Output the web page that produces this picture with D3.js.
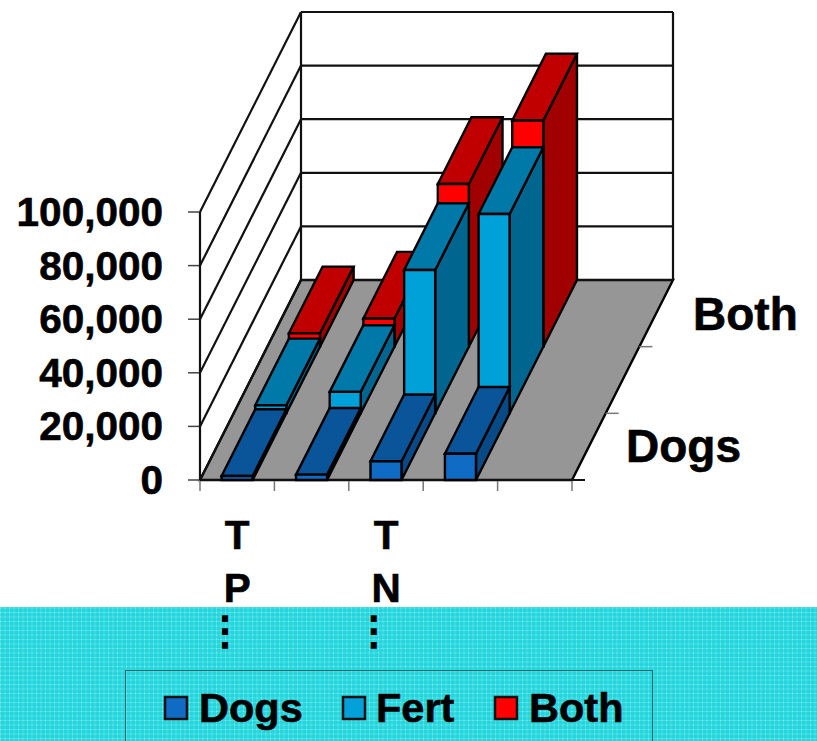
<!DOCTYPE html>
<html>
<head>
<meta charset="utf-8">
<script src="https://cdn.jsdelivr.net/npm/d3@7"></script>
<style>
    html, body { margin: 0; padding: 0; background: #fff; }
    svg { display: block; }
    text { font-family: "Liberation Sans", Arial, sans-serif; font-weight: bold; fill: #000; stroke: #000; stroke-width: 0.6px; }
    text.dots { font-family: "DejaVu Sans", sans-serif; font-weight: normal; stroke-width: 2px; }
</style>
</head>
<body>
<div class="container"></div>
<script>
var width = 817;
var height = 741;

// four filled groups, the fifth slot on the axis stays empty
var categories = ["T P", "", "T N", "", ""];
var dogs = [1500, 2000, 7000, 9800, null];
var fert = [3000, 8000, 53500, 74400, null];
var both = [5000, 10500, 60700, 84400, null];
var series_names = ["Dogs", "Fert", "Both"];
var depth_labels = ["Dogs", "Both"];
var y_ticks = [0, 20000, 40000, 60000, 80000, 100000];

var colors = {
    Dogs: { front: "#0f6bc4", top: "#0a5499", side: "#084a86" },
    Fert: { front: "#00a0d8", top: "#0079a8", side: "#006690" },
    Both: { front: "#ff0000", top: "#c00000", side: "#a00000" }
};

var floor_left = 200, floor_right = 572, floor_y = 480;
var depth_dx = 101, depth_dy = -200;

var x = d3.scaleLinear().domain([0, 5]).range([floor_left, floor_right]);
var band = d3.scaleBand().domain(d3.range(5)).range([floor_left, floor_right])
    .paddingInner(0.583).paddingOuter(0.29);
var y = d3.scaleLinear().domain([0, 100000]).range([0, -268]);
var z = d3.scaleLinear().domain([0, 3]).range([0, 1]);

// px is the screen x on the front edge, v the value, d the depth row
function project(px, v, d) {
    return [px + z(d) * depth_dx, floor_y + y(v) + z(d) * depth_dy];
}

function poly(g, pts, fill) {
    g.append("polygon")
        .attr("points", pts.map(function(p) { return p.join(","); }).join(" "))
        .attr("fill", fill)
        .attr("stroke", "#000")
        .attr("stroke-width", 2.4)
        .attr("stroke-linejoin", "miter");
}

function line(g, a, b, w, col) {
    g.append("line")
        .attr("x1", a[0]).attr("y1", a[1])
        .attr("x2", b[0]).attr("y2", b[1])
        .attr("stroke", col || "#111")
        .attr("stroke-width", w || 2.2);
}

function init() {
    var svg = d3.select(".container").append("svg")
        .attr("width", width)
        .attr("height", height);

    // cyan band at the bottom of the slide
    var pattern = svg.append("defs").append("pattern")
        .attr("id", "dots")
        .attr("patternUnits", "userSpaceOnUse")
        .attr("width", 4.5).attr("height", 4.5);
    pattern.append("rect").attr("width", 4.5).attr("height", 4.5).attr("fill", "#22d6de");
    pattern.append("rect").attr("width", 4.5).attr("height", 1).attr("fill", "#48dde3");
    pattern.append("rect").attr("width", 1).attr("height", 4.5).attr("fill", "#48dde3");
    pattern.append("rect").attr("width", 1).attr("height", 1).attr("fill", "#96ecef");

    svg.append("rect")
        .attr("x", 0).attr("y", 607)
        .attr("width", width).attr("height", height - 607)
        .attr("fill", "url(#dots)");

    var chart = svg.append("g").classed("chart", true);

    // floor
    poly(chart, [project(floor_left, 0, 0), project(floor_right, 0, 0),
        project(floor_right, 0, 3), project(floor_left, 0, 3)], "#969696");

    // wall lines
    y_ticks.forEach(function(t) {
        line(chart, project(floor_left, t, 0), project(floor_left, t, 3));
        line(chart, project(floor_left, t, 3), project(floor_right, t, 3));
        line(chart, [floor_left - 12, floor_y + y(t)], [floor_left, floor_y + y(t)], 1.5, "#444");
    });
    line(chart, project(floor_left, 0, 0), project(floor_left, 100000, 0));
    line(chart, project(floor_left, 0, 3), project(floor_left, 100000, 3));
    line(chart, project(floor_right, 0, 3), project(floor_right, 100000, 3));

    // category ticks
    d3.range(6).forEach(function(i) {
        line(chart, [x(i), floor_y], [x(i), floor_y + 11], 1.5, "#777");
    });
    line(chart, [floor_left, floor_y], [floor_right + 13, floor_y], 2);

    // depth ticks
    d3.range(1, 3).forEach(function(d) {
        var p = project(floor_right, 0, d);
        line(chart, p, [p[0] + 13, p[1]], 1.5, "#777");
    });

    // bars, back row first
    var rows = [both, fert, dogs];
    rows.forEach(function(values, r) {
        var d = 2 - r;
        var c = colors[series_names[d]];
        values.forEach(function(v, i) {
            if (v === null) return;
            var x0 = band(i), x1 = band(i) + band.bandwidth();
            poly(chart, [project(x1, 0, d), project(x1, 0, d + 1), project(x1, v, d + 1), project(x1, v, d)], c.side);
            poly(chart, [project(x0, v, d), project(x1, v, d), project(x1, v, d + 1), project(x0, v, d + 1)], c.top);
            poly(chart, [project(x0, 0, d), project(x1, 0, d), project(x1, v, d), project(x0, v, d)], c.front);
        });
    });

    // value axis labels
    chart.selectAll("text.ytick")
        .data(y_ticks)
        .enter()
        .append("text")
        .classed("ytick", true)
        .attr("x", 163)
        .attr("y", function(d) { return floor_y + y(d) + 14; })
        .attr("text-anchor", "end")
        .attr("font-size", 40.5)
        .text(d3.format(","));

    // category labels are wrapped one letter per line, then the dots
    categories.forEach(function(label, i) {
        if (!label) return;
        var cx = (x(i) + x(i + 1)) / 2;
        label.split(" ").forEach(function(ch, k) {
            chart.append("text")
                .attr("x", cx)
                .attr("y", 549 + k * 53)
                .attr("text-anchor", "middle")
                .attr("font-size", 40.5)
                .text(ch);
        });
        chart.append("text")
            .classed("dots", true)
            .attr("x", cx - 12)
            .attr("y", 644)
            .attr("text-anchor", "middle")
            .attr("font-size", 39)
            .text("\u22EE");
    });

    // depth labels
    chart.append("text").attr("x", 626).attr("y", 462).attr("font-size", 46).text(depth_labels[0]);
    chart.append("text").attr("x", 693).attr("y", 330).attr("font-size", 46).text(depth_labels[1]);

    // legend
    var legend = svg.append("g").classed("legend", true);
    legend.append("rect")
        .attr("x", 125.5).attr("y", 670.5)
        .attr("width", 527).attr("height", 90)
        .attr("fill", "none")
        .attr("stroke", "#1a6a70")
        .attr("stroke-width", 1);

    var swatch_x = [165, 343, 495];
    var label_x = [199, 376, 529];
    series_names.forEach(function(name, i) {
        legend.append("rect")
            .attr("x", swatch_x[i]).attr("y", 697)
            .attr("width", 22).attr("height", 22)
            .attr("fill", colors[name].front)
            .attr("stroke", "#111")
            .attr("stroke-width", 2.5);
        legend.append("text")
            .attr("x", label_x[i]).attr("y", 722)
            .attr("font-size", 41.5)
            .text(name);
    });
}

init();
</script>
</body>
</html>
